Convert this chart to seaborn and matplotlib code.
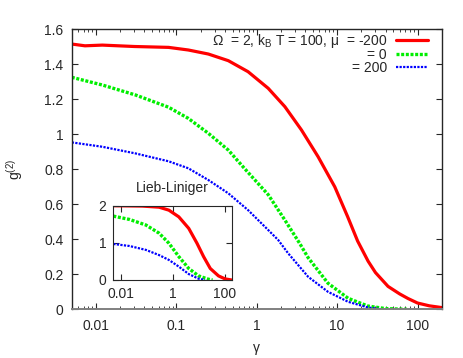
import pandas as pd
import matplotlib
matplotlib.use('Agg')
import matplotlib.pyplot as plt
import matplotlib.ticker as mticker
import seaborn as sns

# --- data ---
# main panel: g2 vs gamma for three chemical potentials
gamma_m200 = [0.005, 0.0073, 0.012, 0.03, 0.08, 0.141, 0.25, 0.443, 0.78, 1.39, 2.24, 3.6,
              5.8, 9.35, 13.5, 18, 24.3, 30, 43, 60, 76, 100, 140, 200]
g2_m200 = [1.516, 1.506, 1.510, 1.502, 1.497, 1.482, 1.459, 1.421, 1.358, 1.263, 1.158, 1.025,
           0.872, 0.70, 0.53, 0.39, 0.275, 0.21, 0.131, 0.088, 0.062, 0.036, 0.02, 0.010]

gamma_0 = [0.005, 0.012, 0.031, 0.08, 0.141, 0.25, 0.443, 0.72, 1.39, 2.24, 3.44, 4.36,
           7.7, 13.7, 24, 40, 75]
g2_0 = [1.326, 1.282, 1.225, 1.155, 1.091, 1.006, 0.910, 0.80, 0.655, 0.51, 0.375, 0.295,
        0.149, 0.063, 0.019, 0.004, 0.0]

gamma_200 = [0.005, 0.012, 0.031, 0.08, 0.141, 0.25, 0.443, 0.78, 1.39, 1.85, 2.46, 4.36,
             7.7, 13.7, 24, 35]
g2_200 = [0.954, 0.929, 0.891, 0.846, 0.806, 0.739, 0.663, 0.567, 0.453, 0.396, 0.32, 0.186,
          0.10, 0.043, 0.011, 0.0]

# inset: Lieb-Liniger
ll_gamma_m200 = [0.005, 0.066, 0.29, 0.69, 1.66, 4.0, 8.3, 14.9, 27, 56, 100, 180]
ll_g2_m200 = [2.0, 1.99, 1.96, 1.88, 1.70, 1.39, 0.99, 0.63, 0.31, 0.11, 0.03, 0.0]

ll_gamma_0 = [0.005, 0.021, 0.09, 0.29, 0.69, 1.66, 4.0, 9.6, 23, 33]
ll_g2_0 = [1.72, 1.63, 1.48, 1.26, 0.99, 0.63, 0.31, 0.11, 0.02, 0.0]

ll_gamma_200 = [0.005, 0.021, 0.09, 0.29, 0.69, 1.66, 4.0, 9.6, 17]
ll_g2_200 = [0.97, 0.915, 0.81, 0.67, 0.54, 0.36, 0.16, 0.035, 0.0]

labels = [r"Ω  = 2, k$_\mathrm{B}$ T = 100, μ  = -200", "= 0", "= 200"]
xticks_main = [0.01, 0.1, 1, 10, 100]
xticks_inset = [0.01, 1, 100]

sns.set_style('ticks')
plt.rcParams['font.family'] = ['Liberation Sans', 'DejaVu Sans']
plt.rcParams['mathtext.fontset'] = 'custom'
plt.rcParams['mathtext.rm'] = 'Liberation Sans'
plt.rcParams['mathtext.it'] = 'Liberation Sans:italic'
plt.rcParams['font.size'] = 10

styles = [
    dict(color='#ff0000', lw=2.3, ls='-'),
    dict(color='#00ee00', lw=2.4, ls=(0, (0.9, 0.5))),
    dict(color='#0000ff', lw=1.6, ls=(0, (1.0, 0.6))),
]

fig = plt.figure(figsize=(4.63, 3.58), dpi=100)
ax = fig.add_axes([0.155, 0.136, 0.799, 0.782])

main = [(gamma_m200, g2_m200), (gamma_0, g2_0), (gamma_200, g2_200)]
for (x, y), st, lab in zip(main, styles, labels):
    df = pd.DataFrame({'gamma': x, 'g2': y})
    sns.lineplot(data=df, x='gamma', y='g2', ax=ax, sort=False, estimator=None,
                 label=lab, color=st['color'], linewidth=st['lw'], linestyle=st['ls'])

ax.set_xscale('log')
ax.set_xlim(0.005, 200)
ax.set_ylim(0, 1.6)
ax.set_yticks([0, 0.2, 0.4, 0.6, 0.8, 1.0, 1.2, 1.4, 1.6])
ax.yaxis.set_major_formatter(mticker.FormatStrFormatter('%g'))
ax.set_xticks(xticks_main)
ax.set_xticklabels([f'{t:g}' for t in xticks_main])
ax.tick_params(which='major', direction='in', length=4, width=0.8, top=True, right=True,
               labelsize=10)
ax.tick_params(axis='x', which='major', pad=7)
ax.tick_params(axis='y', which='major', pad=6)
ax.tick_params(which='minor', direction='in', length=2, width=0.6, top=True, right=True)
ax.set_xlabel('γ', fontsize=10, labelpad=6)
ax.set_ylabel(r'g$^{(2)}$', fontsize=10, labelpad=14)
for s in ax.spines.values():
    s.set_linewidth(1.0)
ax.spines['bottom'].set_color('#808080')
ax.spines['bottom'].set_linewidth(1.4)

leg = ax.legend(loc='upper right', bbox_to_anchor=(0.977, 1.012), frameon=False,
                markerfirst=False, handlelength=2.27, handletextpad=0.65,
                labelspacing=-0.1, fontsize=10, borderaxespad=0)

# inset
ins = fig.add_axes([0.2447, 0.2179, 0.2557, 0.2075])
inset = [(ll_gamma_m200, ll_g2_m200), (ll_gamma_0, ll_g2_0), (ll_gamma_200, ll_g2_200)]
for (x, y), st in zip(inset, styles):
    df = pd.DataFrame({'gamma': x, 'g2': y})
    sns.lineplot(data=df, x='gamma', y='g2', ax=ins, sort=False, estimator=None,
                 color=st['color'], linewidth=st['lw'], linestyle=st['ls'], legend=False)
ins.set_xscale('log')
ins.set_xlim(0.005, 180)
ins.set_ylim(0, 2)
ins.set_yticks([0, 1, 2])
ins.set_xticks(xticks_inset)
ins.set_xticklabels([f'{t:g}' for t in xticks_inset])
ins.xaxis.set_minor_locator(mticker.NullLocator())
ins.tick_params(which='major', direction='in', length=4, width=0.8, top=True, right=True,
                labelsize=10, pad=5)
ins.set_xlabel('')
ins.set_ylabel('')
ins.set_title('Lieb-Liniger', fontsize=10, pad=10)

fig.savefig('out.png', dpi=100)
